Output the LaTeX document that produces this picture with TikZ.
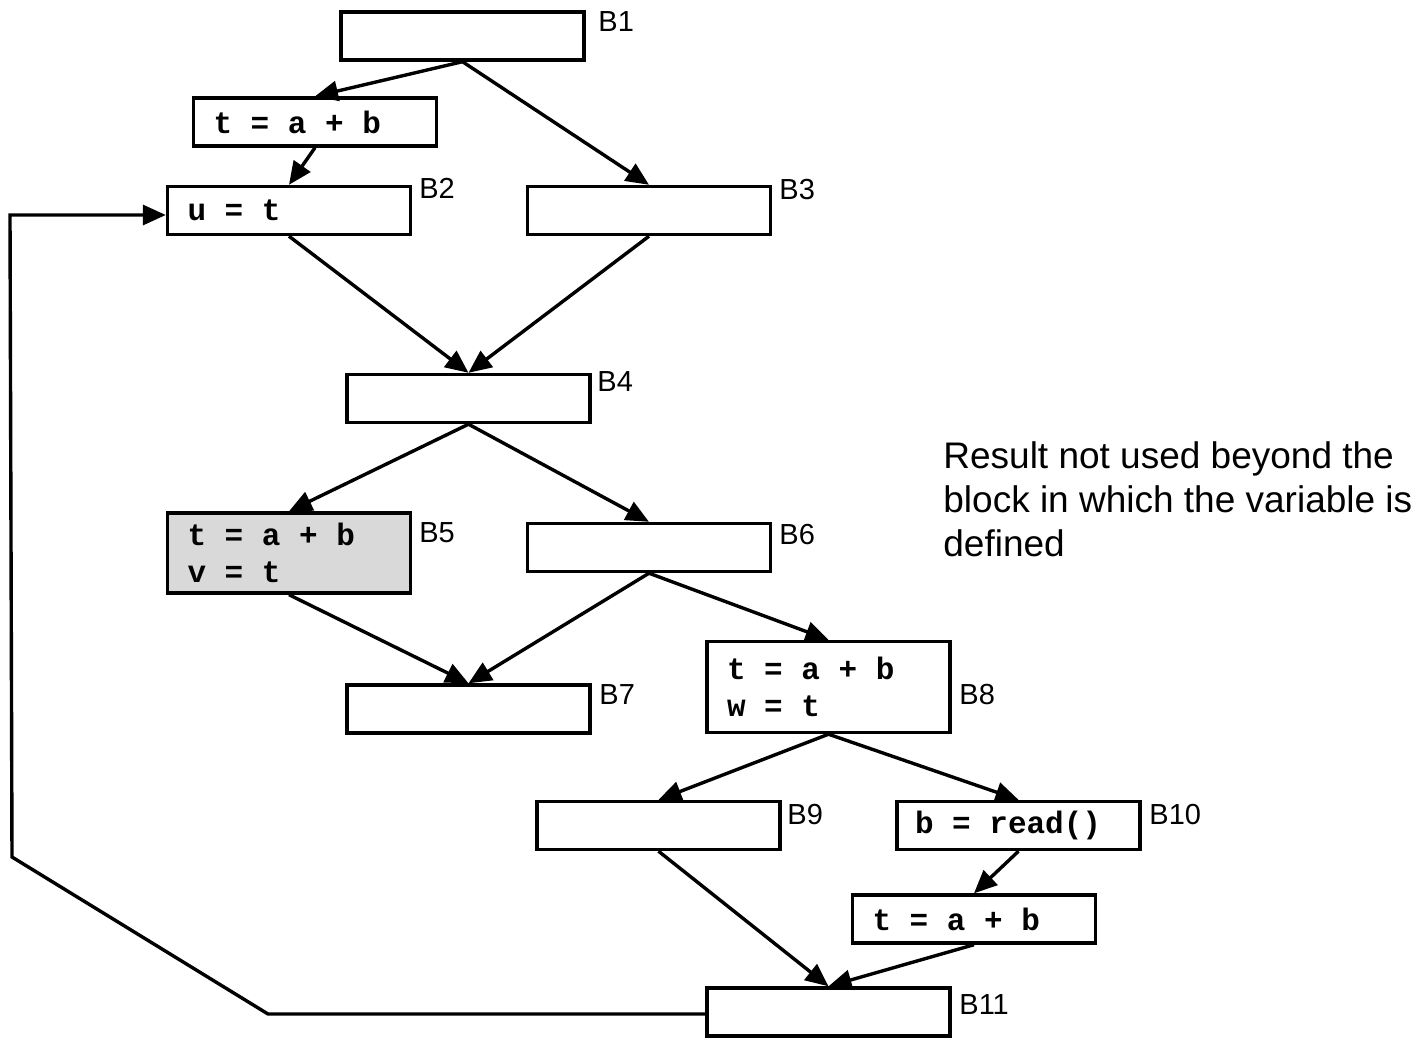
\documentclass[tikz,border=0pt]{standalone}
\usepackage{fontspec}
\setmainfont{Liberation Sans}
\newfontfamily\codefont{Liberation Mono}
\usetikzlibrary{arrows.meta,calc}
\definecolor{boxgray}{HTML}{D9D9D9}
\newcommand\sk{\hspace*{0.6em}}
\tikzset{
  blk/.style={draw, line width=1.7pt, rectangle, inner xsep=10pt, inner ysep=0pt,
    minimum width=121.5pt, minimum height=24pt, text width=101.5pt, align=left,
    font=\codefont\bfseries\fontsize{15.5}{18.5}\selectfont},
  lbl/.style={anchor=west, inner sep=0pt, font=\fontsize{14.5}{16}\selectfont},
  edge/.style={line width=1.7pt, -{Triangle[length=11.5pt,width=10pt]}},
}
\begin{document}
\begin{tikzpicture}[x=0.5pt,y=-0.5pt]
\useasboundingbox (0,0) rectangle (1423,1038);
% blocks
\node[blk] (B1) at (462.5,36) {};
\node[blk] (T0) at (315,122) {t\sk=\sk a\sk+\sk b};
\node[blk] (B2) at (289,210.5) {u\sk=\sk t};
\node[blk] (B3) at (649,210.5) {};
\node[blk] (B4) at (468.5,398.5) {};
\node[blk, fill=boxgray, minimum height=40pt] (B5) at (289,553) {t\sk=\sk a\sk+\sk b\\v\sk=\sk t};
\node[blk] (B6) at (649,547.5) {};
\node[blk] (B7) at (468.5,709) {};
\node[blk, minimum height=45.5pt] (B8) at (828.5,687) {t\sk=\sk a\sk+\sk b\\w\sk=\sk t};
\node[blk] (B9) at (658.5,825.5) {};
\node[blk, inner xsep=9pt, text width=103.5pt] (B10) at (1018.5,825.5) {b\sk=\sk read()};
\node[blk] (T1) at (974,919) {t\sk=\sk a\sk+\sk b};
\node[blk] (B11) at (828.5,1012) {};
% labels
\node[lbl] (L1) at (598,22) {B1};
\node[lbl] (L2) at (419,188) {B2};
\node[lbl] (L3) at (779,190) {B3};
\node[lbl] (L4) at (597,382) {B4};
\node[lbl] (L5) at (419,533) {B5};
\node[lbl] (L6) at (779,535) {B6};
\node[lbl] (L7) at (599,695) {B7};
\node[lbl] (L8) at (959,695) {B8};
\node[lbl] (L9) at (787,815) {B9};
\node[lbl] (L10) at (1149,815) {B10};
\node[lbl] (L11) at (959,1005) {B11};
% annotation
\node[anchor=north west, inner sep=0pt, align=left,
  font=\fontsize{18.5}{22}\selectfont] (note) at (943,441)
  {Result not used beyond the\\block in which the variable is\\defined};
% edges
\draw[edge] (B1.south) -- (T0.north);
\draw[edge] (B1.south) -- (B3.north);
\draw[edge] (T0.south) -- (B2.north);
\draw[edge] (B2.south) -- (B4.north);
\draw[edge] (B3.south) -- (B4.north);
\draw[edge] (B4.south) -- (B5.north);
\draw[edge] (B4.south) -- (B6.north);
\draw[edge] (B5.south) -- (B7.north);
\draw[edge] (B6.south) -- (B7.north);
\draw[edge] (B6.south) -- (B8.north);
\draw[edge] (B8.south) -- (B9.north);
\draw[edge] (B8.south) -- (B10.north);
\draw[edge] (B10.south) -- (T1.north);
\draw[edge] (B9.south) -- (B11.north);
\draw[edge] (T1.south) -- (B11.north);
% loop back
\coordinate (c1) at (268,1014);
\coordinate (c2) at (12,857);
\coordinate (c3) at (10,215);
\draw[edge, line join=miter] ($(B11.west)+(0,2)$) -- (c1) -- (c2) -- (c3) -- ($(B2.west)+(0,4.5)$);
\end{tikzpicture}
\end{document}
